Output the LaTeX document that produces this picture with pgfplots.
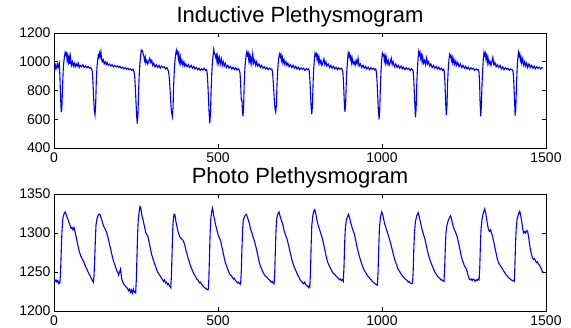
\documentclass[border=0pt]{standalone}
\usepackage{pgfplots}
\pgfplotsset{compat=1.18}
\usepackage{fontspec}
\setmainfont{Liberation Sans}
\begin{document}
\begin{tikzpicture}
\path[use as bounding box] (0,0) rectangle (571pt,-328pt);
\pgfplotsset{
  mystyle/.style={
    scale only axis, width=492pt, anchor=north west,
    xmin=0, xmax=1500, xtick={0,500,1000,1500},
    /pgf/number format/assume math mode=true,
    /pgf/number format/1000 sep={},
    tick label style={font=\fontsize{14}{16}\selectfont, text=black},
    every axis title/.style={at={(0.5,1)}, anchor=base, yshift=10pt, font=\fontsize{22}{24}\selectfont},
    axis line style={black, line width=0.8pt},
    major tick length=4pt,
    major tick style={black, line width=0.6pt},
    tick align=inside,
    xticklabel style={yshift=-1pt},
  }
}
\begin{axis}[mystyle, at={(54pt,-33pt)}, height=115pt,
  ymin=400, ymax=1200, ytick={400,600,800,1000,1200},
  title={Inductive Plethysmogram}]
\addplot[color={rgb,1:red,0;green,0;blue,1}, line width=1.1pt, mark=none] coordinates {
(0,968) (2,955) (4,975) (6,950) (8,965) (10,985) (12,960) (14,975) (16,990) (18,900) (20,760) (22,650) (24,680) (26,820) (28,940) (30,1000) (32,1040) (34,1065) (36,1050) (38,1060) (40,1010) (42,1040) (44,1000) (46,1030) (48,985) (50,1035) (53,975) (56,1000) (59,970) (62,990) (65,965) (68,985) (71,970) (74,990) (77,960) (80,975) (84,965) (88,980) (92,960) (96,970) (100,958) (104,968) (108,955) (112,960) (115,945) (117,930) (119,850) (121,740) (123,660) (125,630) (127,700) (129,870) (131,960) (133,1010) (135,1045) (137,1030) (139,1060) (141,1040) (143,1070) (145,1020) (147,1000) (150,1015) (153,985) (156,1000) (159,980) (162,995) (165,975) (169,985) (173,970) (177,980) (181,965) (185,975) (189,965) (193,970) (197,960) (201,968) (205,955) (209,962) (213,950) (217,958) (221,948) (225,955) (229,945) (233,950) (237,940) (241,948) (244,930) (246,900) (248,820) (250,720) (252,620) (254,570) (256,640) (258,800) (260,920) (262,990) (264,1040) (266,1080) (268,1070) (270,1075) (272,1050) (274,1040) (276,1010) (278,1030) (280,990) (283,1010) (286,985) (289,1005) (292,1025) (295,995) (298,1010) (301,975) (304,990) (308,965) (312,980) (316,960) (320,975) (324,955) (328,970) (332,960) (336,965) (340,950) (344,960) (347,945) (349,935) (351,900) (353,840) (355,760) (357,680) (359,640) (361,618) (363,680) (365,850) (367,950) (369,1010) (371,1050) (373,1080) (375,1060) (377,1070) (379,1020) (381,1050) (383,1000) (385,1030) (387,985) (390,1010) (393,975) (396,1000) (399,970) (402,985) (406,965) (410,980) (414,960) (418,975) (422,955) (426,968) (430,950) (434,960) (438,945) (442,955) (446,940) (450,950) (454,942) (458,955) (462,940) (465,945) (467,920) (469,850) (471,740) (473,640) (475,572) (477,640) (479,800) (481,920) (483,1000) (485,1040) (487,1085) (489,1060) (491,1050) (493,1030) (495,1045) (497,1000) (499,1035) (501,990) (504,1030) (507,985) (510,1020) (513,975) (516,1000) (519,970) (522,990) (526,960) (530,975) (534,955) (538,968) (542,950) (546,962) (550,945) (554,958) (558,942) (562,952) (565,940) (567,925) (569,850) (571,735) (573,730) (575,650) (576,620) (578,680) (580,850) (582,950) (584,1010) (586,1050) (588,1070) (590,1045) (592,1060) (594,1010) (596,1040) (598,995) (600,1030) (603,985) (606,1055) (609,990) (612,1010) (615,975) (618,1000) (621,970) (625,985) (629,960) (633,975) (637,955) (641,965) (645,950) (649,960) (653,945) (657,955) (661,948) (664,950) (666,930) (668,880) (670,800) (672,720) (674,670) (676,650) (678,700) (680,850) (682,940) (684,1000) (686,1040) (688,1055) (690,1035) (692,1050) (694,1010) (696,1030) (698,990) (701,1015) (704,980) (707,1000) (710,975) (713,990) (717,965) (721,980) (725,960) (729,975) (733,955) (737,968) (741,950) (745,962) (749,945) (753,958) (757,948) (761,955) (765,940) (769,952) (773,945) (776,950) (778,935) (780,880) (782,780) (784,680) (786,634) (788,700) (790,860) (792,960) (794,1020) (796,1060) (798,1045) (800,1055) (802,1020) (804,1040) (806,1000) (808,1030) (811,985) (814,1010) (817,975) (820,995) (823,1020) (826,980) (829,1000) (832,970) (836,985) (840,960) (844,975) (848,955) (852,968) (856,950) (860,962) (864,945) (868,958) (872,948) (876,955) (879,945) (881,920) (883,840) (885,720) (887,652) (889,700) (891,850) (893,950) (895,1010) (897,1060) (899,1040) (901,1055) (903,1020) (905,1035) (907,995) (909,1025) (912,985) (915,1000) (918,975) (921,1010) (924,985) (927,1025) (930,970) (934,985) (938,960) (942,975) (946,955) (950,968) (954,950) (958,962) (962,945) (966,958) (970,948) (974,955) (978,942) (981,950) (983,930) (985,860) (987,760) (989,660) (991,600) (993,660) (995,820) (997,940) (999,1010) (1001,1060) (1003,1045) (1005,1050) (1007,1010) (1009,1040) (1011,995) (1013,1030) (1016,985) (1019,1010) (1022,975) (1025,995) (1028,1025) (1031,980) (1034,1000) (1038,965) (1042,985) (1046,960) (1050,975) (1054,955) (1058,970) (1062,950) (1066,962) (1070,945) (1074,958) (1078,948) (1082,955) (1086,940) (1090,952) (1093,945) (1095,935) (1097,870) (1099,760) (1101,660) (1102,613) (1104,670) (1106,840) (1108,950) (1110,1020) (1112,1070) (1114,1050) (1116,1065) (1118,1025) (1120,1045) (1122,1000) (1124,1035) (1127,990) (1130,1010) (1133,980) (1136,1025) (1139,985) (1142,1000) (1145,970) (1149,985) (1153,960) (1157,975) (1161,955) (1165,968) (1169,950) (1173,962) (1177,945) (1181,955) (1185,940) (1188,948) (1190,930) (1192,850) (1194,720) (1196,629) (1198,690) (1200,850) (1202,950) (1204,1010) (1206,1050) (1208,1035) (1210,1045) (1212,1010) (1214,1030) (1216,990) (1219,1020) (1222,980) (1225,1005) (1228,975) (1231,995) (1235,965) (1239,985) (1243,960) (1247,975) (1251,955) (1255,968) (1259,950) (1263,962) (1267,945) (1271,958) (1275,948) (1279,955) (1283,940) (1287,950) (1291,942) (1294,945) (1296,920) (1298,820) (1299,720) (1301,620) (1303,690) (1305,850) (1307,950) (1309,1020) (1311,1065) (1313,1045) (1315,1060) (1317,1020) (1319,1040) (1321,995) (1323,1030) (1326,985) (1329,1005) (1332,975) (1335,1000) (1338,1030) (1341,980) (1344,995) (1348,965) (1352,980) (1356,960) (1360,975) (1364,950) (1368,965) (1372,945) (1376,958) (1380,948) (1384,955) (1388,940) (1392,950) (1396,945) (1399,940) (1401,900) (1403,790) (1405,680) (1406,625) (1408,680) (1410,840) (1412,950) (1414,1020) (1416,1065) (1418,1040) (1420,1055) (1422,1010) (1424,1030) (1426,990) (1429,1020) (1432,975) (1435,1000) (1438,970) (1441,990) (1444,960) (1448,985) (1452,960) (1456,975) (1460,955) (1464,970) (1468,950) (1472,965) (1476,955) (1480,962) (1484,950) (1488,960) (1490,955)
};
\end{axis}
\begin{axis}[mystyle, at={(54pt,-194pt)}, height=117pt,
  ymin=1200, ymax=1350, ytick={1200,1250,1300,1350},
  title={Photo Plethysmogram}]
\addplot[color={rgb,1:red,0;green,0;blue,1}, line width=1.1pt, mark=none] coordinates {
(0,1241) (3,1238) (6,1240) (9,1237) (12,1239) (15,1235) (18,1236) (20,1250) (22,1275) (24,1300) (26,1314) (28,1321) (31,1325) (34,1327) (37,1324) (40,1320) (43,1317) (46,1313) (49,1310) (52,1306) (55,1307) (58,1304) (61,1307) (64,1302) (67,1296) (70,1290) (73,1284) (76,1278) (79,1274) (82,1270) (85,1268) (88,1265) (91,1263) (94,1259) (97,1256) (100,1254) (103,1251) (106,1248) (109,1246) (112,1243) (115,1241) (117,1239) (120,1237)
(122,1245) (124,1265) (126,1290) (128,1310) (131,1318) (134,1322) (137,1324) (140,1324) (143,1320) (146,1316) (149,1312) (152,1308) (155,1306) (158,1303) (161,1300) (164,1295) (167,1290) (170,1284) (173,1279) (176,1273) (179,1268) (182,1263) (185,1260) (188,1256) (191,1252) (194,1250) (197,1246) (200,1250) (203,1254) (205,1246) (207,1240) (209,1238) (212,1235) (215,1233) (218,1232) (221,1230) (224,1229) (227,1226) (230,1228) (233,1224) (236,1227) (239,1223) (242,1228) (245,1224) (248,1225) (249,1224)
(251,1240) (253,1270) (255,1300) (257,1318) (260,1328) (262,1334) (264,1333) (266,1328) (268,1322) (271,1318) (274,1312) (277,1306) (280,1300) (283,1298) (286,1296) (289,1290) (292,1284) (295,1278) (298,1272) (301,1268) (304,1264) (307,1260) (310,1257) (313,1253) (316,1250) (319,1248) (322,1246) (325,1244) (328,1242) (331,1240) (334,1238) (337,1240) (340,1236) (343,1237) (346,1234) (349,1235) (352,1232) (355,1231) (356,1230)
(358,1245) (360,1275) (362,1305) (364,1318) (366,1324) (368,1324) (370,1320) (372,1314) (375,1308) (378,1302) (381,1298) (384,1295) (387,1293) (390,1292) (393,1291) (396,1288) (399,1284) (402,1278) (405,1274) (408,1269) (411,1265) (414,1261) (417,1257) (420,1254) (423,1251) (426,1248) (429,1246) (432,1244) (435,1241) (438,1240) (441,1238) (444,1236) (447,1237) (450,1234) (453,1233) (456,1231) (459,1230) (462,1229) (465,1228) (468,1227) (470,1227)
(472,1240) (474,1270) (476,1300) (478,1318) (481,1328) (483,1332) (485,1328) (487,1322) (490,1316) (493,1310) (496,1305) (499,1300) (502,1296) (505,1293) (508,1290) (511,1284) (514,1278) (517,1272) (520,1266) (523,1261) (526,1258) (529,1254) (532,1251) (535,1248) (538,1246) (541,1245) (544,1243) (547,1241) (550,1242) (553,1239) (556,1238) (559,1236) (562,1237) (565,1235) (568,1236) (569,1235)
(571,1250) (573,1280) (575,1305) (577,1316) (580,1320) (583,1323) (587,1324) (590,1320) (593,1316) (596,1312) (599,1305) (602,1302) (605,1298) (608,1293) (611,1290) (614,1285) (617,1280) (620,1274) (623,1268) (626,1262) (629,1258) (632,1255) (635,1252) (638,1249) (641,1247) (644,1245) (647,1244) (650,1243) (653,1241) (656,1240) (659,1239) (662,1237) (665,1238) (668,1236) (671,1235)
(673,1250) (675,1280) (677,1305) (679,1318) (682,1324) (686,1327) (689,1322) (692,1318) (695,1314) (698,1310) (701,1304) (704,1300) (707,1296) (710,1293) (713,1288) (716,1283) (719,1277) (722,1272) (725,1266) (728,1262) (731,1258) (734,1255) (737,1252) (740,1249) (743,1246) (746,1244) (749,1241) (752,1239) (755,1238) (758,1236) (761,1235) (764,1237) (767,1234) (770,1233) (773,1232) (776,1230) (778,1232) (780,1231)
(782,1250) (784,1285) (786,1310) (789,1322) (792,1328) (795,1330) (798,1325) (801,1318) (804,1312) (807,1308) (810,1304) (813,1300) (816,1296) (819,1291) (822,1286) (825,1280) (828,1274) (831,1268) (834,1263) (837,1260) (840,1257) (843,1255) (846,1252) (849,1250) (852,1248) (855,1247) (858,1246) (861,1244) (864,1243) (867,1242) (870,1240) (873,1241) (876,1239) (879,1240) (882,1238)
(884,1255) (886,1285) (888,1305) (891,1316) (894,1320) (898,1324) (901,1320) (904,1314) (907,1310) (910,1305) (913,1302) (916,1298) (919,1292) (922,1286) (925,1280) (928,1275) (931,1270) (934,1266) (937,1262) (940,1258) (943,1255) (946,1252) (949,1250) (952,1248) (955,1246) (958,1244) (961,1243) (964,1241) (967,1240) (970,1238) (973,1237) (976,1236) (979,1235) (982,1234) (986,1233)
(988,1250) (990,1280) (992,1305) (995,1320) (999,1327) (1002,1324) (1005,1318) (1008,1312) (1011,1308) (1014,1304) (1017,1300) (1020,1296) (1023,1292) (1026,1287) (1029,1282) (1032,1277) (1035,1272) (1038,1267) (1041,1263) (1044,1260) (1047,1256) (1050,1253) (1053,1251) (1056,1249) (1059,1247) (1062,1245) (1065,1244) (1068,1242) (1071,1241) (1074,1240) (1077,1239) (1080,1237) (1083,1238) (1086,1236) (1089,1235) (1093,1235)
(1095,1250) (1097,1280) (1099,1300) (1102,1315) (1106,1322) (1110,1326) (1113,1322) (1116,1316) (1119,1310) (1122,1305) (1125,1300) (1128,1296) (1131,1292) (1134,1286) (1137,1280) (1140,1275) (1143,1270) (1146,1266) (1149,1262) (1152,1259) (1155,1256) (1158,1253) (1161,1250) (1164,1248) (1167,1246) (1170,1244) (1173,1243) (1176,1242) (1179,1240) (1182,1240) (1185,1239) (1189,1238)
(1191,1255) (1193,1280) (1195,1300) (1198,1310) (1202,1316) (1206,1320) (1209,1322) (1212,1318) (1215,1312) (1218,1307) (1221,1304) (1224,1301) (1227,1298) (1230,1294) (1233,1288) (1236,1282) (1239,1276) (1242,1270) (1245,1265) (1248,1262) (1251,1258) (1254,1256) (1257,1254) (1260,1250) (1263,1245) (1266,1241) (1269,1240) (1272,1241) (1275,1239) (1278,1241) (1281,1240) (1284,1238) (1287,1240) (1290,1239) (1293,1241) (1296,1240)
(1298,1255) (1300,1285) (1302,1305) (1305,1318) (1309,1326) (1313,1331) (1316,1326) (1319,1318) (1322,1310) (1325,1304) (1328,1302) (1331,1304) (1334,1300) (1337,1296) (1340,1290) (1343,1284) (1346,1278) (1349,1272) (1352,1266) (1355,1262) (1358,1260) (1361,1258) (1364,1256) (1367,1254) (1370,1252) (1373,1250) (1376,1248) (1379,1246) (1382,1245) (1385,1243) (1388,1242) (1391,1241) (1394,1240) (1397,1239) (1400,1239) (1403,1238)
(1405,1255) (1407,1285) (1409,1305) (1412,1318) (1416,1324) (1420,1328) (1423,1322) (1426,1315) (1429,1305) (1432,1300) (1435,1302) (1438,1300) (1441,1303) (1444,1302) (1447,1295) (1450,1285) (1453,1278) (1456,1272) (1459,1268) (1462,1266) (1465,1267) (1468,1264) (1471,1262) (1474,1263) (1477,1260) (1480,1259) (1483,1256) (1486,1254) (1489,1250) (1491,1251)
};
\end{axis}
\end{tikzpicture}
\end{document}
